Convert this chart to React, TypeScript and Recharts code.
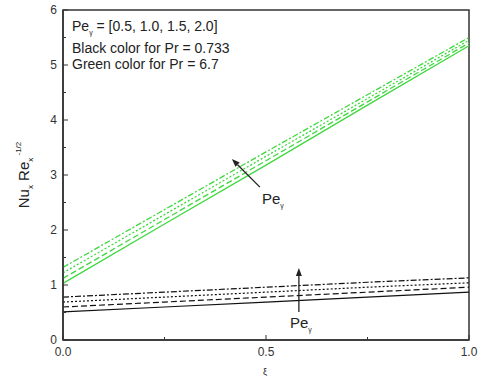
import React from 'react';
import { LineChart, Line, XAxis, YAxis, ReferenceLine, ReferenceArea } from 'recharts';

const xi = [0, 0.25, 0.5, 0.75, 1.0];
const greenSolid = [1.03, 2.11, 3.18, 4.27, 5.35];
const greenDashed = [1.12, 2.19, 3.26, 4.33, 5.4];
const greenDotted = [1.22, 2.28, 3.34, 4.39, 5.45];
const greenDashDot = [1.32, 2.37, 3.42, 4.46, 5.5];
const blackSolid = [0.51, 0.6, 0.69, 0.78, 0.87];
const blackDashed = [0.6, 0.69, 0.78, 0.87, 0.96];
const blackDotted = [0.69, 0.78, 0.87, 0.96, 1.04];
const blackDashDot = [0.78, 0.87, 0.96, 1.05, 1.13];
const xTicks = [0, 0.25, 0.5, 0.75, 1.0];
const xLabels = ['0.0', '', '0.5', '', '1.0'];
const yTicks = [0, 0.5, 1, 1.5, 2, 2.5, 3, 3.5, 4, 4.5, 5, 5.5, 6];

const data = xi.map((x, i) => ({
  x,
  gs: greenSolid[i], gd: greenDashed[i], gt: greenDotted[i], gdd: greenDashDot[i],
  bs: blackSolid[i], bd: blackDashed[i], bt: blackDotted[i], bdd: blackDashDot[i],
}));

const AX = '#333';
const GREEN = '#3fd83f';
const M = 6;

const YTick = (p: any) => {
  const v = p.payload.value;
  const major = Number.isInteger(v);
  const ax = p.x + M;
  return (
    <g>
      <line x1={ax} x2={ax + (major ? 5 : 3)} y1={p.y} y2={p.y} stroke={AX} strokeWidth={1} />
      {major && (
        <text x={p.x} y={p.y} dy={4} textAnchor="end" fontSize={12} fill={AX} fontFamily="Liberation Sans, Arial, sans-serif">{v}</text>
      )}
    </g>
  );
};

const XTick = (p: any) => {
  const v = p.payload.value;
  const idx = xTicks.indexOf(v);
  const lbl = xLabels[idx] ?? '';
  const major = lbl !== '';
  const ay = p.y - M;
  return (
    <g>
      <line x1={p.x} x2={p.x} y1={ay} y2={ay - (major ? 5 : 3)} stroke={AX} strokeWidth={1} />
      {major && (
        <text x={p.x} y={p.y} dy={10} textAnchor="middle" fontSize={12} fill={AX} fontFamily="Liberation Sans, Arial, sans-serif">{lbl}</text>
      )}
    </g>
  );
};

const Arrow = (p: any) => {
  const { x1, y1, x2, y2 } = p;
  const dx = x2 - x1, dy = y2 - y1;
  const len = Math.sqrt(dx * dx + dy * dy) || 1;
  const ux = dx / len, uy = dy / len;
  const hl = 8, hw = 3;
  const bx = x2 - ux * hl, by = y2 - uy * hl;
  const pts = `${x2},${y2} ${bx - uy * hw},${by + ux * hw} ${bx + uy * hw},${by - ux * hw}`;
  return (
    <g>
      <line x1={x1} y1={y1} x2={bx} y2={by} stroke="#222" strokeWidth={1.3} />
      <polygon points={pts} fill="#222" />
    </g>
  );
};

const font = 'Liberation Sans, Arial, sans-serif';

export default function App() {
  return (
    <div style={{ position: 'absolute', left: 0, top: 0 }}>
      <LineChart width={484} height={379} data={data} margin={{ top: 10, right: 15, bottom: 0, left: 0 }}>
        <XAxis dataKey="x" type="number" domain={[0, 1]} ticks={xTicks} tickSize={0} tickMargin={M}
          tick={XTick} height={39} stroke={AX} strokeWidth={1.5} />
        <YAxis type="number" domain={[0, 6]} ticks={yTicks} tickSize={0} tickMargin={M}
          tick={YTick} width={63} stroke={AX} strokeWidth={1.5} interval={0} />
        <ReferenceArea x1={0} x2={1} y1={0} y2={6} fill="none" stroke={AX} strokeWidth={1.5} ifOverflow="visible" />
        <Line dataKey="gs" stroke={GREEN} strokeWidth={1.3} dot={false} isAnimationActive={false} />
        <Line dataKey="gd" stroke={GREEN} strokeWidth={1.3} strokeDasharray="6 3" dot={false} isAnimationActive={false} />
        <Line dataKey="gt" stroke={GREEN} strokeWidth={1.3} strokeDasharray="2 2" dot={false} isAnimationActive={false} />
        <Line dataKey="gdd" stroke={GREEN} strokeWidth={1.3} strokeDasharray="6 2 2 2" dot={false} isAnimationActive={false} />
        <Line dataKey="bs" stroke="#111" strokeWidth={1.2} dot={false} isAnimationActive={false} />
        <Line dataKey="bd" stroke="#111" strokeWidth={1.2} strokeDasharray="6 3" dot={false} isAnimationActive={false} />
        <Line dataKey="bt" stroke="#111" strokeWidth={1.2} strokeDasharray="2 2" dot={false} isAnimationActive={false} />
        <Line dataKey="bdd" stroke="#111" strokeWidth={1.2} strokeDasharray="6 2 2 2" dot={false} isAnimationActive={false} />
        <ReferenceLine segment={[{ x: 0.485, y: 2.78 }, { x: 0.416, y: 3.29 }]} shape={Arrow} ifOverflow="visible" />
        <ReferenceLine segment={[{ x: 0.581, y: 0.51 }, { x: 0.581, y: 1.31 }]} shape={Arrow} ifOverflow="visible" />
        <g fontFamily={font} fill="#222">
          <text x={72} y={31} fontSize={14}>Pe<tspan fontSize={7} dy={4}>γ</tspan><tspan dy={-4}> = [0.5, 1.0, 1.5, 2.0]</tspan></text>
          <text x={72} y={53} fontSize={14}>Black color for Pr = 0.733</text>
          <text x={72} y={69} fontSize={14}>Green color for Pr = 6.7</text>
          <text x={262} y={204} fontSize={15}>Pe<tspan fontSize={7} dy={4}>γ</tspan></text>
          <text x={290} y={328} fontSize={15}>Pe<tspan fontSize={7} dy={4}>γ</tspan></text>
          <text x={265} y={375} fontSize={9} textAnchor="middle">ξ</text>
          <text transform="translate(29,175) rotate(-90)" textAnchor="middle" fontSize={15}>
            Nu<tspan fontSize={8} dy={4}>x</tspan><tspan dy={-4}> Re</tspan><tspan fontSize={8} dy={4}>x</tspan><tspan fontSize={8} dy={-12}> -1/2</tspan>
          </text>
        </g>
      </LineChart>
    </div>
  );
}
